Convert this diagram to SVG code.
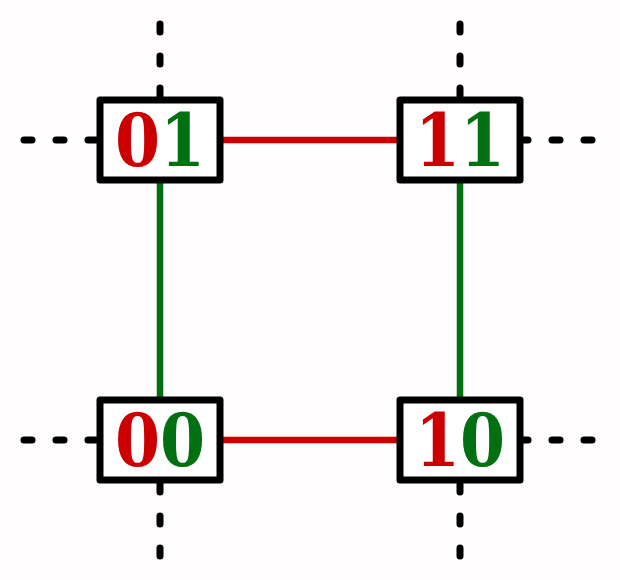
<svg xmlns="http://www.w3.org/2000/svg" width="620" height="580" viewBox="0 0 620 580">
<style>
.dash{stroke:#000;stroke-width:7;stroke-linecap:round;stroke-dasharray:8 24;fill:none}
.box{fill:#fff;stroke:#000;stroke-width:7;stroke-linejoin:round}
.lbl{font-family:"DejaVu Serif Condensed","DejaVu Serif",serif;font-stretch:condensed;font-weight:bold;font-size:72px;text-anchor:middle}
.r{fill:#cc0000}.g{fill:#007010}
.er{stroke:#cc0000;stroke-width:6.5}.eg{stroke:#007010;stroke-width:6.5}
</style>
<rect width="620" height="580" fill="#fffdfd"/>
<g id="connectors">
<line class="er" x1="220" y1="140" x2="400" y2="140"/>
<line class="er" x1="220" y1="440" x2="400" y2="440"/>
<line class="eg" x1="160" y1="180" x2="160" y2="400"/>
<line class="eg" x1="460" y1="180" x2="460" y2="400"/>
<path class="dash" d="M96 140H20M160 96V20M460 96V20M520 140H597M96 440H20M520 440H597M160 484V560M460 484V560"/>
</g>
<g id="n01"><rect class="box" x="100" y="100" width="120" height="80"/><text class="lbl" x="160" y="166"><tspan class="r">0</tspan><tspan class="g">1</tspan></text></g>
<g id="n11"><rect class="box" x="400" y="100" width="120" height="80"/><text class="lbl" x="460" y="166"><tspan class="r">1</tspan><tspan class="g">1</tspan></text></g>
<g id="n00"><rect class="box" x="100" y="400" width="120" height="80"/><text class="lbl" x="160" y="466"><tspan class="r">0</tspan><tspan class="g">0</tspan></text></g>
<g id="n10"><rect class="box" x="400" y="400" width="120" height="80"/><text class="lbl" x="460" y="466"><tspan class="r">1</tspan><tspan class="g">0</tspan></text></g>
</svg>
